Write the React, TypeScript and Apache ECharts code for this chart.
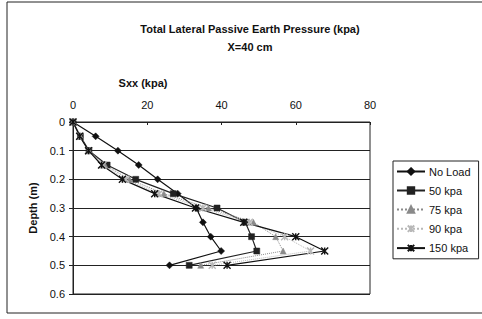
import React, { useEffect, useRef } from "react";
import * as echarts from "echarts";

const depths = [0, 0.05, 0.1, 0.15, 0.2, 0.25, 0.3, 0.35, 0.4, 0.45, 0.5];
const noLoad = [0, 6.1, 12.1, 17.7, 22.8, 28.2, 33.2, 35.0, 37.1, 39.9, 26.0];
const kpa50 = [0, 2.0, 4.3, 9.2, 16.9, 27.0, 38.8, 46.4, 48.1, 49.5, 31.3];
const kpa75 = [0, 2.0, 4.3, 8.6, 15.2, 24.5, 36.5, 48.6, 54.6, 56.6, 34.4];
const kpa90 = [0, 1.9, 4.2, 8.1, 14.2, 23.2, 35.0, 47.5, 57.0, 64.0, 37.5];
const kpa150 = [0, 1.8, 4.2, 7.7, 13.3, 22.0, 33.0, 46.0, 60.0, 67.8, 41.5];

const seriesNames = ["No Load", "50 kpa", "75 kpa", "90 kpa", "150 kpa"];
const xTicks = [0, 20, 40, 60, 80];

const titleLine1 = "Total Lateral Passive Earth Pressure (kpa)";
const titleLine2 = "X=40 cm";
const xName = "Sxx (kpa)";
const yName = "Depth (m)";

const FONT = "Liberation Sans, Arial, sans-serif";
const STAR = "path://M0,0L10,10M10,0L0,10M5,0L5,10";

function pairs(vals: number[]) {
  return vals.map((v, i) => [v, depths[i]]);
}

export default function App() {
  const ref = useRef<HTMLDivElement>(null);
  useEffect(() => {
    if (!ref.current) return;
    const chart = echarts.init(ref.current, undefined, { renderer: "svg" });
    const mk = (
      name: string,
      vals: number[],
      symbol: string,
      color: string,
      lineType: any,
      size: number,
      hollowStar = false
    ) => ({
      name,
      type: "line",
      data: pairs(vals),
      symbol,
      symbolSize: size,
      showSymbol: true,
      lineStyle: { color, width: lineType === "solid" ? 1.2 : 1, type: lineType },
      itemStyle: hollowStar
        ? { color: "none", borderColor: color, borderWidth: 1.4 }
        : { color, borderColor: color, borderWidth: 0.5 },
      emphasis: { disabled: true },
    });
    chart.setOption({
      animation: false,
      backgroundColor: "#fff",
      textStyle: { fontFamily: FONT },
      graphic: [
        {
          type: "rect",
          shape: { x: 7, y: 2, width: 490, height: 311 },
          style: { fill: "none", stroke: "#222", lineWidth: 1 },
          silent: true,
        },
        {
          type: "text",
          x: 250,
          y: 23,
          style: {
            text: titleLine1,
            textAlign: "center",
            font: `bold 11px ${FONT}`,
            fill: "#111",
          },
        },
        {
          type: "text",
          x: 250,
          y: 41,
          style: {
            text: titleLine2,
            textAlign: "center",
            font: `bold 11px ${FONT}`,
            fill: "#111",
          },
        },
        {
          type: "text",
          x: 143,
          y: 77,
          style: {
            text: xName,
            textAlign: "center",
            font: `bold 11px ${FONT}`,
            fill: "#111",
          },
        },
      ],
      legend: {
        data: seriesNames,
        orient: "vertical",
        left: 393,
        top: 161,
        width: 85,
        borderColor: "#222",
        borderWidth: 1,
        padding: [5, 8, 5, 3],
        itemGap: 8,
        itemWidth: 28,
        itemHeight: 8,
        textStyle: { fontSize: 11, color: "#111", fontFamily: FONT, padding: [0, 0, 0, -1] },
      },
      grid: {
        left: 73,
        top: 122,
        right: 112,
        bottom: 25,
        show: true,
        borderColor: "#222",
        borderWidth: 1,
        containLabel: false,
      },
      xAxis: {
        type: "value",
        position: "top",
        min: xTicks[0],
        max: xTicks[xTicks.length - 1],
        interval: 20,
        axisLine: { show: true, lineStyle: { color: "#222", width: 1 } },
        axisTick: { show: true, inside: true, length: 3, lineStyle: { color: "#222" } },
        splitLine: { show: false },
        axisLabel: { fontSize: 11, color: "#111", fontFamily: FONT, margin: 12 },
      },
      yAxis: {
        type: "value",
        inverse: true,
        min: 0,
        max: 0.6,
        interval: 0.1,
        name: yName,
        nameLocation: "middle",
        nameRotate: 90,
        nameGap: 34,
        nameTextStyle: { fontSize: 11, fontWeight: "bold", color: "#111", fontFamily: FONT },
        axisLine: { show: true, lineStyle: { color: "#222", width: 1 } },
        axisTick: { show: true, length: 4, lineStyle: { color: "#222" } },
        splitLine: { show: true, lineStyle: { color: "#222", width: 1 } },
        axisLabel: {
          fontSize: 11,
          color: "#111",
          fontFamily: FONT,
          margin: 8,
          formatter: (v: number) => (v === 0 ? "0" : v.toFixed(1)),
        },
      },
      series: [
        mk(seriesNames[0], noLoad, "diamond", "#111", "solid", 7),
        mk(seriesNames[1], kpa50, "rect", "#222", "solid", 6),
        mk(seriesNames[2], kpa75, "triangle", "#8a8a8a", "dotted", 6),
        mk(seriesNames[3], kpa90, STAR, "#b8b8b8", "dotted", 7, true),
        mk(seriesNames[4], kpa150, STAR, "#111", "solid", 7, true),
      ],
    });
    return () => chart.dispose();
  }, []);
  return (
    <div
      ref={ref}
      style={{ position: "fixed", left: 0, top: 0, width: 482, height: 319, background: "#fff" }}
    />
  );
}
